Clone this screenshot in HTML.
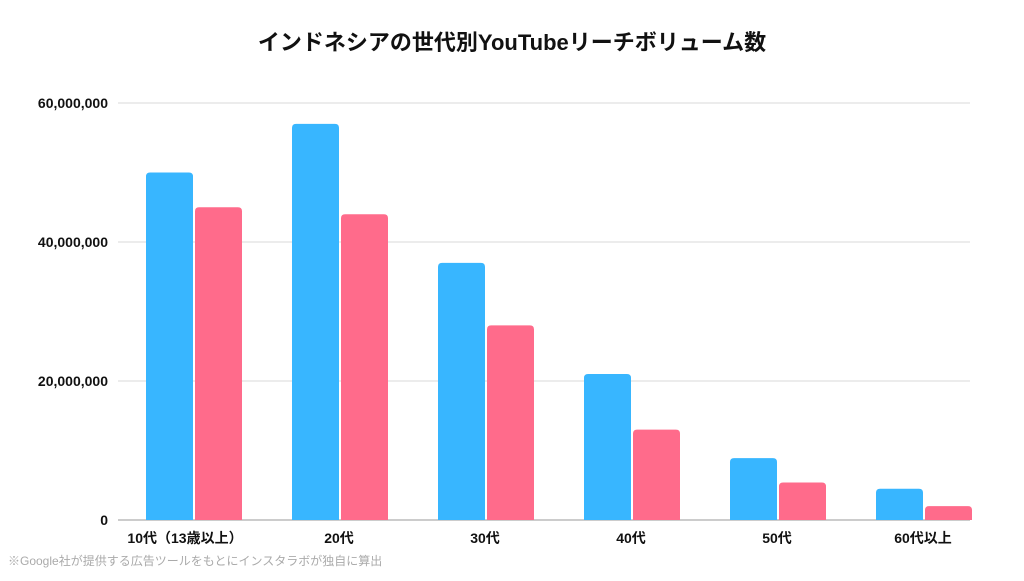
<!DOCTYPE html>
<html><head><meta charset="utf-8"><style>
body{margin:0;width:1024px;height:576px;background:#fff;overflow:hidden;font-family:"Liberation Sans","Noto Sans CJK JP",sans-serif;}
</style></head><body>
<svg id="chart" width="1024" height="576" xmlns="http://www.w3.org/2000/svg" font-family="Liberation Sans, Noto Sans CJK JP, sans-serif">
<text x="512" y="50" text-anchor="middle" font-size="22" font-weight="bold" fill="#111">インドネシアの世代別YouTubeリーチボリューム数</text>
<g id="grid"></g><g id="bars"></g><g id="labels"></g>
<text x="8" y="565" font-size="12" fill="#aaa">※Google社が提供する広告ツールをもとにインスタラボが独自に算出</text>
</svg>
<script>
const categories=["10代（13歳以上）","20代","30代","40代","50代","60代以上"];
const seriesA=[50000000,57000000,37000000,21000000,8900000,4500000];
const seriesB=[45000000,44000000,28000000,13000000,5400000,2000000];
const yTicks=[0,20000000,40000000,60000000];
const yTickLabels=["0","20,000,000","40,000,000","60,000,000"];
const NS="http://www.w3.org/2000/svg";
const y0=520,yTop=103,yMax=60000000;
function y(v){return y0-(v/yMax)*(y0-yTop);}
function x(i){return 146+i*146;}
const bw=47;
function mk(t,a,p){const e=document.createElementNS(NS,t);for(const k in a)e.setAttribute(k,a[k]);p.appendChild(e);return e;}
const grid=document.getElementById('grid'),bars=document.getElementById('bars'),labels=document.getElementById('labels');
yTicks.forEach((v,i)=>{
 const l=mk('line',{x1:118,x2:970,y1:y(v),y2:y(v),stroke:v===0?'#999':'#d9d9d9','stroke-width':1},grid);
 
 
 const t=mk('text',{x:108,y:y(v)+5,'text-anchor':'end','font-size':14,'font-weight':'bold',fill:'#111'},labels);
 t.textContent=yTickLabels[i];
 
 
});
function bar(px,v,color){
 const top=y(v),h=y0-top,r=Math.min(4,h/2);
 const p=mk('path',{d:`M${px},${y0}V${top+r}Q${px},${top} ${px+r},${top}H${px+bw-r}Q${px+bw},${top} ${px+bw},${top+r}V${y0}Z`,fill:color},bars);
 return p;
}
categories.forEach((c,i)=>{
 const a=bar(x(i),seriesA[i],'#38b6ff');
 
 
 const b=bar(x(i)+bw+2,seriesB[i],'#ff6b8b');
 
 
 const t=mk('text',{x:x(i)+bw-(i===0?8:0),y:543,'text-anchor':'middle','font-size':14,'font-weight':'bold',fill:'#111'},labels);
 t.textContent=c;
 
 
});
</script>
</body></html>
